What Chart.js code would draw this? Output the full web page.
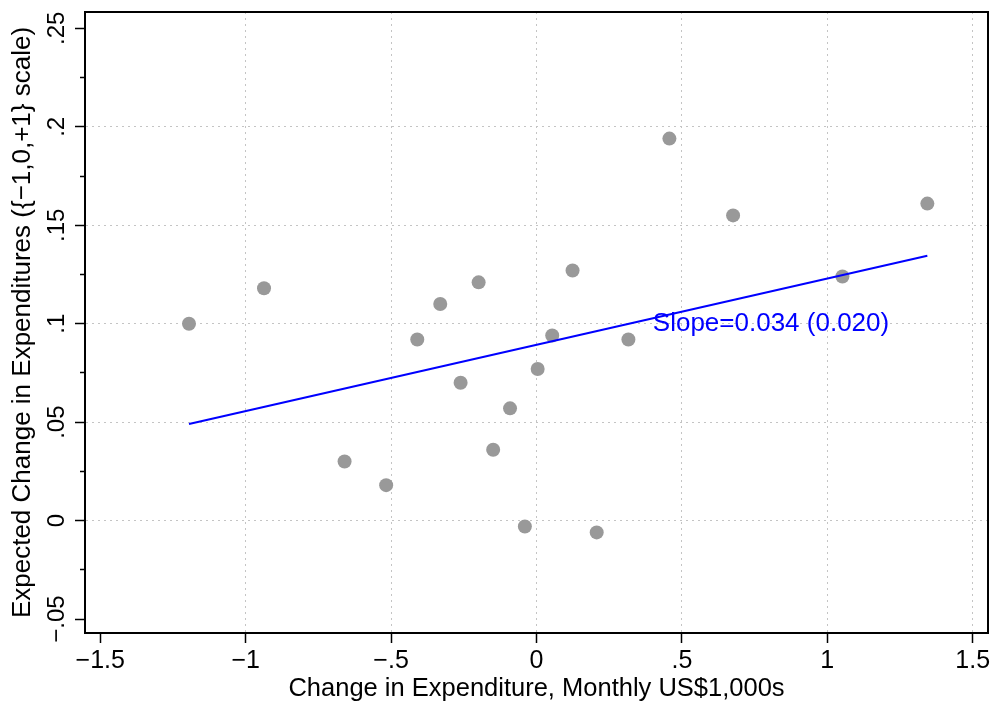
<!DOCTYPE html>
<html>
<head>
<meta charset="utf-8">
<script src="https://cdn.jsdelivr.net/npm/chart.js@4.4.1/dist/chart.umd.min.js"></script>
<style>
  html, body { margin: 0; padding: 0; background: #fff; }
  canvas { display: block; }
</style>
</head>
<body>
<canvas id="chart" width="992" height="702"></canvas>
<script>
// values
const expenditureChange = [-1.195, -0.937, -0.660, -0.517, -0.410, -0.331, -0.199, -0.261, -0.091, -0.149,
                           -0.040, 0.207, 0.004, 0.124, 0.457, 0.676, 1.052, 0.054, 0.316, 1.344];
const expectedChange = [0.100, 0.118, 0.030, 0.018, 0.092, 0.110, 0.121, 0.070, 0.057, 0.036,
                        -0.003, -0.006, 0.077, 0.127, 0.194, 0.155, 0.124, 0.094, 0.092, 0.161];
const fitX = [-1.195, 1.344];
const fitY = [0.049, 0.1345];

const xTickValues = [-1.5, -1, -0.5, 0, 0.5, 1, 1.5];
const xTickLabels = ["\u22121.5", "\u22121", "\u2212.5", "0", ".5", "1", "1.5"];
const yTickValues = [-0.05, 0, 0.05, 0.1, 0.15, 0.2, 0.25];
const yTickLabels = ["\u2212.05", "0", ".05", ".1", ".15", ".2", ".25"];
const yMinorTicks = [-0.025, 0.025, 0.075, 0.125, 0.175, 0.225];

const xTitle = "Change in Expenditure, Monthly US$1,000s";
const yTitle = "Expected Change in Expenditures ({\u22121,0,+1} scale)";
const slopeNote = "Slope=0.034 (0.020)";
const noteAt = [0.4, 0.1];

const FONT = '"Liberation Sans", Arial, Helvetica, sans-serif';
const Y_LABEL_SIZE = 24;

function same(a, b) { return Math.abs(a - b) < 1e-9; }
function isMinorY(v) { return yMinorTicks.some(m => same(m, v)); }

// chart.js centres rotated y labels using the widest label, so measure it
const measureCtx = document.createElement("canvas").getContext("2d");
measureCtx.font = Y_LABEL_SIZE + "px " + FONT;
const widestY = Math.max(...yTickLabels.map(t => measureCtx.measureText(t).width));

const points = expenditureChange.map((v, i) => ({ x: v, y: expectedChange[i] }));
const fitLine = fitX.map((v, i) => ({ x: v, y: fitY[i] }));

const noPadding = () => ({ left: 0, top: 0, right: 0, bottom: 0 });

const framePlugin = {
    id: "frame",
    afterDraw(chart) {
        const { ctx, chartArea: a } = chart;
        ctx.save();
        ctx.strokeStyle = "#000";
        ctx.lineWidth = 2;
        ctx.strokeRect(a.left, a.top, a.right - a.left, a.bottom - a.top);
        ctx.restore();
    }
};

const notePlugin = {
    id: "note",
    afterDatasetsDraw(chart) {
        const { ctx, scales } = chart;
        ctx.save();
        ctx.font = "26px " + FONT;
        ctx.fillStyle = "#0000ff";
        ctx.textAlign = "left";
        ctx.textBaseline = "middle";
        ctx.fillText(slopeNote, scales.x.getPixelForValue(noteAt[0]), scales.y.getPixelForValue(noteAt[1]));
        ctx.restore();
    }
};

new Chart(document.getElementById("chart"), {
    type: "scatter",
    data: {
        datasets: [
            {
                data: fitLine,
                showLine: true,
                borderColor: "#0000ff",
                borderWidth: 2,
                pointRadius: 0,
                fill: false,
                order: 0
            },
            {
                data: points,
                pointRadius: 7,
                pointBackgroundColor: "#999999",
                pointBorderWidth: 0,
                order: 1
            }
        ]
    },
    options: {
        responsive: false,
        animation: false,
        devicePixelRatio: 1,
        layout: { autoPadding: false, padding: { top: 12, right: 4, left: 0, bottom: 0 } },
        plugins: { legend: { display: false }, tooltip: { enabled: false } },
        scales: {
            x: {
                type: "linear",
                min: -1.5526,
                max: 1.5526,
                afterBuildTicks: s => { s.ticks = xTickValues.map(v => ({ value: v })); },
                afterFit: s => { s.height = 69; s.paddingLeft = 0; s.paddingRight = 0; s.getPadding = noPadding; },
                ticks: {
                    callback: (v, i) => xTickLabels[i],
                    font: { family: FONT, size: 25 },
                    color: "#000",
                    padding: 3,
                    maxRotation: 0
                },
                grid: {
                    color: c => (c.tick && same(c.tick.value, -1.5)) ? "rgba(0,0,0,0)" : "#c4c4c4",
                    lineWidth: 1,
                    tickColor: "#000",
                    tickWidth: 1.5,
                    tickLength: 10
                },
                border: { display: true, color: "#000", width: 2, dash: [2, 4] },
                title: {
                    display: true,
                    text: xTitle,
                    color: "#000",
                    font: { family: FONT, size: 25.5, lineHeight: 1 },
                    padding: { top: 0, bottom: 0 }
                }
            },
            y: {
                type: "linear",
                min: -0.0571,
                max: 0.2583,
                afterBuildTicks: s => {
                    s.ticks = yTickValues.concat(yMinorTicks).sort((a, b) => a - b).map(v => ({ value: v }));
                },
                afterFit: s => { s.width = 85; s.paddingTop = 0; s.paddingBottom = 0; s.getPadding = noPadding; },
                ticks: {
                    callback: v => {
                        const k = yTickValues.findIndex(t => same(t, v));
                        return k >= 0 ? yTickLabels[k] : "";
                    },
                    font: { family: FONT, size: Y_LABEL_SIZE },
                    color: "#000",
                    minRotation: 90,
                    maxRotation: 90,
                    crossAlign: "center",
                    padding: 85 - 10 - 57 - widestY / 2
                },
                grid: {
                    color: c => {
                        if (!c.tick) return "#c4c4c4";
                        const v = c.tick.value;
                        if (isMinorY(v) || same(v, -0.05) || same(v, 0.25)) return "rgba(0,0,0,0)";
                        return "#c4c4c4";
                    },
                    lineWidth: 1,
                    tickColor: "#000",
                    tickWidth: 1.5,
                    tickLength: 10,
                    tickBorderDash: c => (c.tick && isMinorY(c.tick.value)) ? [0, 5, 5, 100] : []
                },
                border: { display: true, color: "#000", width: 2, dash: [2, 4] },
                title: {
                    display: true,
                    text: yTitle,
                    color: "#000",
                    font: { family: FONT, size: 26 },
                    padding: { top: 7, bottom: 0 }
                }
            }
        }
    },
    plugins: [framePlugin, notePlugin]
});
</script>
</body>
</html>
